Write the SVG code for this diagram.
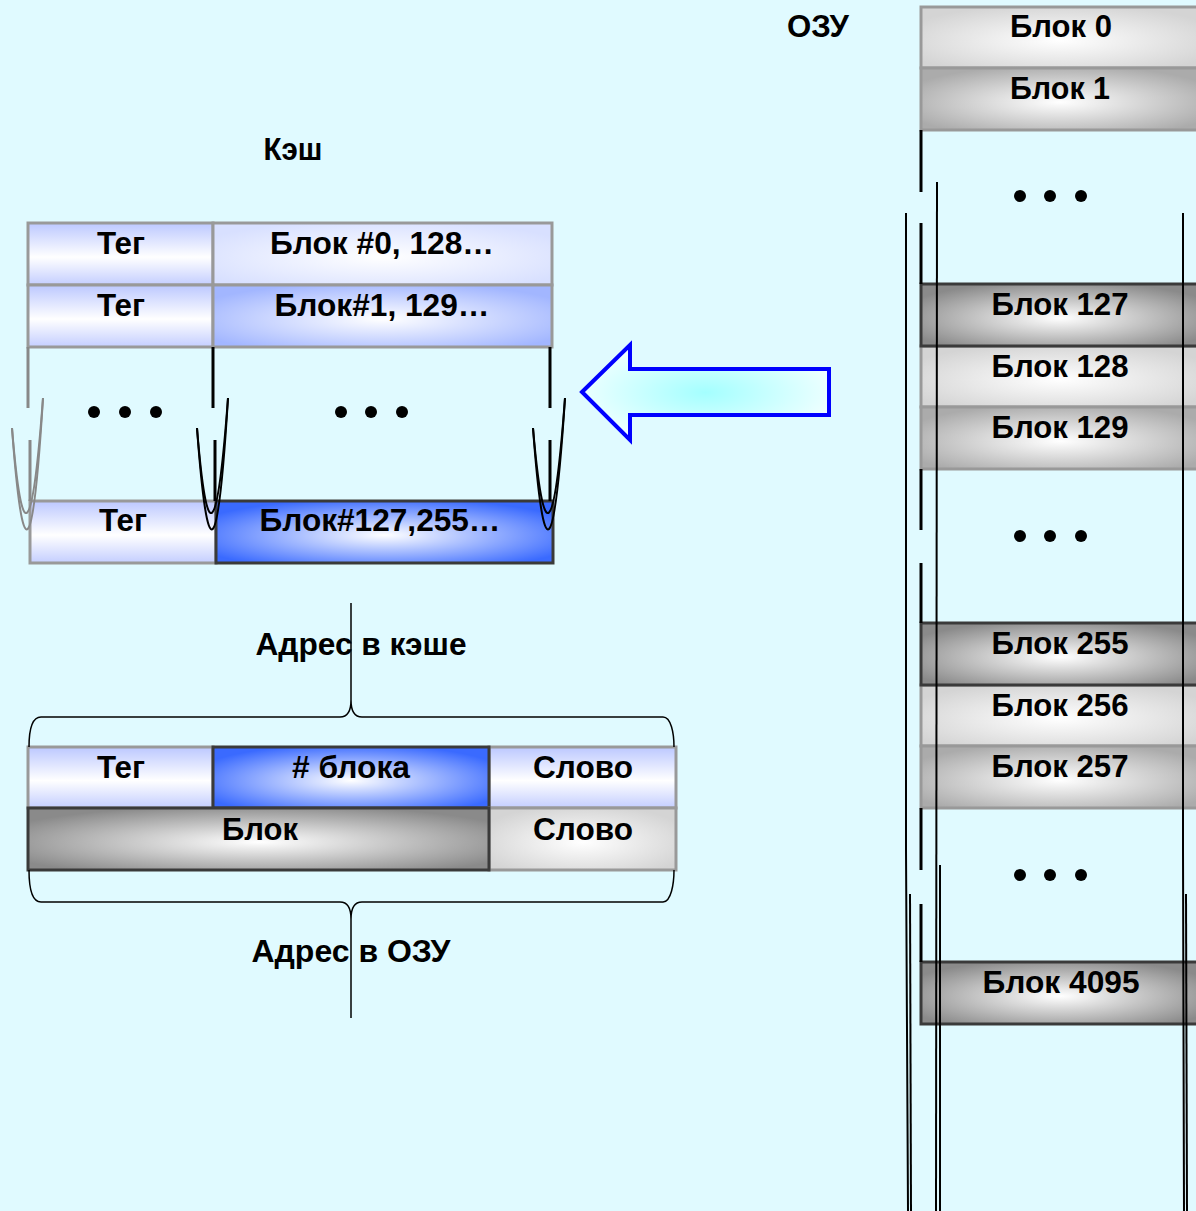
<svg xmlns="http://www.w3.org/2000/svg" width="1196" height="1211" viewBox="0 0 1196 1211">
<defs>
<linearGradient id="gTag" x1="0" y1="0" x2="0" y2="1">
<stop offset="0" stop-color="#BCC8FF"/><stop offset="0.55" stop-color="#FFFFFF"/><stop offset="1" stop-color="#C4CEFF"/>
</linearGradient>
<radialGradient id="gB0" cx="0.5" cy="0.55" r="0.6">
<stop offset="0" stop-color="#FFFFFF"/><stop offset="1" stop-color="#D8E0FF"/>
</radialGradient>
<radialGradient id="gB1" cx="0.5" cy="0.55" r="0.6">
<stop offset="0" stop-color="#FFFFFF"/><stop offset="1" stop-color="#A2B6FF"/>
</radialGradient>
<radialGradient id="gBlue" cx="0.5" cy="0.55" r="0.6">
<stop offset="0" stop-color="#FFFFFF"/><stop offset="1" stop-color="#3A6AFF"/>
</radialGradient>
<radialGradient id="gDark" cx="0.5" cy="0.55" r="0.6">
<stop offset="0" stop-color="#FFFFFF"/><stop offset="1" stop-color="#8A8A8A"/>
</radialGradient>
<radialGradient id="gLight" cx="0.5" cy="0.55" r="0.6">
<stop offset="0" stop-color="#FFFFFF"/><stop offset="1" stop-color="#D4D4D4"/>
</radialGradient>
<radialGradient id="gMid" cx="0.5" cy="0.55" r="0.6">
<stop offset="0" stop-color="#FFFFFF"/><stop offset="1" stop-color="#ABABAB"/>
</radialGradient>
<radialGradient id="gArrow" cx="0.5" cy="0.5" r="0.55">
<stop offset="0" stop-color="#A4FFFF"/><stop offset="1" stop-color="#F2FFFF"/>
</radialGradient>
</defs>
<style>
text{font-family:"Liberation Sans",Arial,sans-serif;font-weight:bold;font-size:31px;fill:#000;text-anchor:middle}
.lt{stroke:#999999;stroke-width:3}
.dk{stroke:#3A3A3A;stroke-width:3}
.thk{stroke:#000;stroke-width:3;fill:none}
.thkg{stroke:#888;stroke-width:3;fill:none}
.thin{stroke:#000;stroke-width:2;fill:none}
.thing{stroke:#888;stroke-width:2;fill:none}
.brace{stroke:#000;stroke-width:1.5;fill:none}
.dot{fill:#000}
</style>
<rect width="1196" height="1211" fill="#E0FAFF"/>

<text x="293" y="160" textLength="59" lengthAdjust="spacingAndGlyphs">Кэш</text>
<text x="818" y="37" textLength="62" lengthAdjust="spacingAndGlyphs">ОЗУ</text>

<g id="cache">
<g id="cache-row0">
<rect x="28" y="223" width="185" height="62" fill="url(#gTag)" class="lt"/>
<rect x="213" y="223" width="339" height="62" fill="url(#gB0)" class="lt"/>
<text x="121" y="254" textLength="48" lengthAdjust="spacingAndGlyphs">Тег</text>
<text x="382" y="254" textLength="224" lengthAdjust="spacingAndGlyphs">Блок #0, 128…</text>
</g>
<g id="cache-row1">
<rect x="28" y="285" width="185" height="62" fill="url(#gTag)" class="lt"/>
<rect x="213" y="285" width="339" height="62" fill="url(#gB1)" class="lt"/>
<text x="121" y="316" textLength="48" lengthAdjust="spacingAndGlyphs">Тег</text>
<text x="382" y="316" textLength="215" lengthAdjust="spacingAndGlyphs">Блок#1, 129…</text>
</g>
<g id="cache-row127">
<rect x="30" y="501" width="186" height="62" fill="url(#gTag)" class="lt"/>
<rect x="216" y="501" width="337" height="62" fill="url(#gBlue)" class="dk"/>
<text x="123" y="531" textLength="48" lengthAdjust="spacingAndGlyphs">Тег</text>
<text x="380" y="531" textLength="241" lengthAdjust="spacingAndGlyphs">Блок#127,255…</text>
</g>
<g id="cache-break">
<line x1="28" y1="347" x2="28" y2="408" class="thkg"/>
<line x1="30" y1="440" x2="30" y2="501" class="thkg"/>
<line x1="213" y1="347" x2="213" y2="408" class="thk"/>
<line x1="215" y1="440" x2="215" y2="501" class="thk"/>
<line x1="550" y1="347" x2="550" y2="408" class="thk"/>
<line x1="550" y1="440" x2="550" y2="501" class="thk"/>
<path d="M12,428 Q27,612 43,398" class="thing"/>
<path d="M12,428 Q28,645 43,398" class="thing"/>
<path d="M197,428 Q212,612 228,398" class="thin"/>
<path d="M197,428 Q213,645 228,398" class="thin"/>
<path d="M533,428 Q549,612 565,398" class="thin"/>
<path d="M533,428 Q549,645 565,398" class="thin"/>
<circle cx="94" cy="412" r="6" class="dot"/><circle cx="125" cy="412" r="6" class="dot"/><circle cx="156" cy="412" r="6" class="dot"/>
<circle cx="341" cy="412" r="6" class="dot"/><circle cx="371" cy="412" r="6" class="dot"/><circle cx="402" cy="412" r="6" class="dot"/>
</g>
</g>

<g id="arrow">
<polygon points="582,392 630,345 630,369 829,369 829,415 630,415 630,440" fill="url(#gArrow)" stroke="#0000FF" stroke-width="4"/>
</g>

<g id="address">
<g id="addr-cache">
<rect x="28" y="747" width="185" height="61" fill="url(#gTag)" class="lt"/>
<rect x="489" y="747" width="187" height="61" fill="url(#gTag)" class="lt"/>
<rect x="213" y="747" width="276" height="61" fill="url(#gBlue)" class="dk"/>
<text x="121" y="778" textLength="48" lengthAdjust="spacingAndGlyphs">Тег</text>
<text x="351" y="778" textLength="118" lengthAdjust="spacingAndGlyphs"># блока</text>
<text x="583" y="778" textLength="100" lengthAdjust="spacingAndGlyphs">Слово</text>
</g>
<g id="addr-ram">
<rect x="489" y="808" width="187" height="62" fill="url(#gLight)" class="lt"/>
<rect x="28" y="808" width="461" height="62" fill="url(#gDark)" class="dk"/>
<text x="260" y="840" textLength="76" lengthAdjust="spacingAndGlyphs">Блок</text>
<text x="583" y="840" textLength="100" lengthAdjust="spacingAndGlyphs">Слово</text>
</g>
<text x="361" y="655" textLength="211" lengthAdjust="spacingAndGlyphs">Адрес в кэше</text>
<text x="351" y="962" textLength="199" lengthAdjust="spacingAndGlyphs">Адрес в ОЗУ</text>
</g>

<g id="ram">
<rect x="921" y="7" width="278" height="61" fill="url(#gLight)" class="lt"/>
<rect x="921" y="68" width="278" height="62" fill="url(#gMid)" class="lt"/>
<rect x="921" y="346" width="278" height="61" fill="url(#gLight)" class="lt"/>
<rect x="921" y="407" width="278" height="62" fill="url(#gMid)" class="lt"/>
<rect x="921" y="284" width="278" height="62" fill="url(#gDark)" class="dk"/>
<rect x="921" y="685" width="278" height="61" fill="url(#gLight)" class="lt"/>
<rect x="921" y="746" width="278" height="62" fill="url(#gMid)" class="lt"/>
<rect x="921" y="623" width="278" height="62" fill="url(#gDark)" class="dk"/>
<rect x="921" y="962" width="278" height="62" fill="url(#gDark)" class="dk"/>
<text x="1061" y="37" textLength="102" lengthAdjust="spacingAndGlyphs">Блок 0</text>
<text x="1060" y="99" textLength="100" lengthAdjust="spacingAndGlyphs">Блок 1</text>
<text x="1060" y="315" textLength="137" lengthAdjust="spacingAndGlyphs">Блок 127</text>
<text x="1060" y="377" textLength="137" lengthAdjust="spacingAndGlyphs">Блок 128</text>
<text x="1060" y="438" textLength="137" lengthAdjust="spacingAndGlyphs">Блок 129</text>
<text x="1060" y="654" textLength="137" lengthAdjust="spacingAndGlyphs">Блок 255</text>
<text x="1060" y="716" textLength="137" lengthAdjust="spacingAndGlyphs">Блок 256</text>
<text x="1060" y="777" textLength="137" lengthAdjust="spacingAndGlyphs">Блок 257</text>
<text x="1061" y="993" textLength="157" lengthAdjust="spacingAndGlyphs">Блок 4095</text>
<circle cx="1020" cy="196" r="6" class="dot"/><circle cx="1050" cy="196" r="6" class="dot"/><circle cx="1081" cy="196" r="6" class="dot"/>
<circle cx="1020" cy="536" r="6" class="dot"/><circle cx="1050" cy="536" r="6" class="dot"/><circle cx="1081" cy="536" r="6" class="dot"/>
<circle cx="1020" cy="875" r="6" class="dot"/><circle cx="1050" cy="875" r="6" class="dot"/><circle cx="1081" cy="875" r="6" class="dot"/>
</g>

<g id="connectors">
<path d="M29,747 C29,733 31,717 41,717 L340,717 C347,717 351,712 351,700 C351,712 355,717 362,717 L663,717 C671,717 674,733 674,747" class="brace"/>
<line x1="351" y1="603" x2="351" y2="700" class="brace"/>
<path d="M29,870 C29,884 31,902 41,902 L340,902 C347,902 351,907 351,919 C351,907 355,902 362,902 L663,902 C671,902 674,884 674,870" class="brace"/>
<line x1="351" y1="919" x2="351" y2="1018" class="brace"/>
<g id="ram-break">
<line x1="921" y1="130" x2="921" y2="192" class="thk"/>
<line x1="921" y1="223" x2="921" y2="284" class="thk"/>
<line x1="921" y1="469" x2="921" y2="530" class="thk"/>
<line x1="921" y1="563" x2="921" y2="623" class="thk"/>
<line x1="921" y1="808" x2="921" y2="870" class="thk"/>
<line x1="921" y1="904" x2="921" y2="962" class="thk"/>
<path d="M906,213 L906,850 L908,1211" class="thin"/>
<path d="M937,182 L936,1211" class="thin"/>
<path d="M1183,213 L1183,850 L1184,1211" class="thin"/>
<path d="M910,894 L911,1211" class="thin"/>
<path d="M940,865 L940,1211" class="thin"/>
<path d="M1186,894 L1187,1211" class="thin"/>
</g>
</g>
</svg>
